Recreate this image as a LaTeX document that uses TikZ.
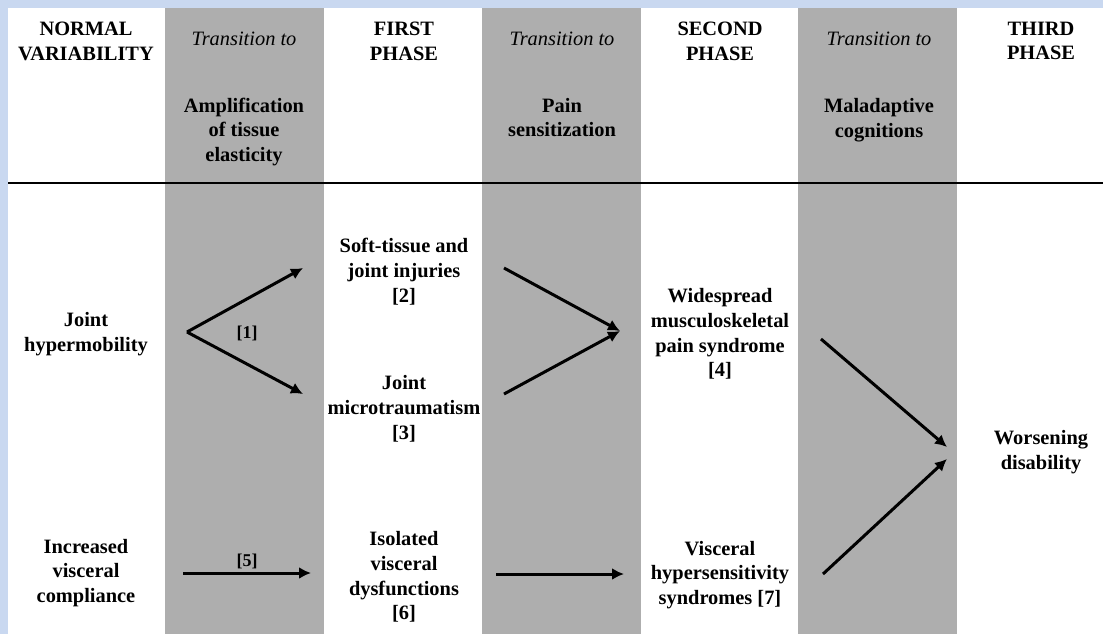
\documentclass[tikz,border=0pt]{standalone}
\usepackage{fontspec}
\setmainfont{Liberation Serif}
\usetikzlibrary{arrows.meta}
\definecolor{gris}{RGB}{174,174,174}
\definecolor{bordure}{RGB}{201,216,240}
\begin{document}
\begin{tikzpicture}[x=0.5pt,y=-0.5pt]
% Styles
\tikzstyle{fleche}=[->,>={Latex[length=6pt,width=6pt]},line width=1.5pt]
\tikzstyle{texte}=[align=center,inner sep=0pt,font=\fontsize{10.2}{12.4}\selectfont\bfseries]
\tikzstyle{transition}=[align=center,inner sep=0pt,font=\fontsize{10.2}{12.4}\selectfont\itshape]
\tikzstyle{etiquette}=[inner sep=0pt,font=\fontsize{9}{11}\selectfont\bfseries]
% Dimensions
\def\Largeur{1103}
\def\Hauteur{634}
\def\Marge{8}
\def\LigneTitre{183}
% Colonnes
\def\ColA{86}
\def\ColB{244}
\def\ColC{404}
\def\ColD{562}
\def\ColE{720}
\def\ColF{879}
\def\ColG{1041}
% Fond
\useasboundingbox (0,0) rectangle (\Largeur,\Hauteur);
\fill[bordure] (0,0) rectangle (\Largeur,\Hauteur);
\fill[white] (\Marge,\Marge) rectangle (\Largeur,\Hauteur);
\fill[gris] (165,\Marge) rectangle (324,\Hauteur);
\fill[gris] (482,\Marge) rectangle (641,\Hauteur);
\fill[gris] (798,\Marge) rectangle (957,\Hauteur);
\draw[line width=1pt] (\Marge,\LigneTitre) -- (\Largeur,\LigneTitre);
% Titres
\node[texte] (NV) at (\ColA,41) {NORMAL\\VARIABILITY};
\node[transition] (T1) at (\ColB,38.5) {Transition to};
\node[texte] (AT) at (\ColB,132) {Amplification\\of tissue\\elasticity};
\node[texte] (P1) at (\ColC,41) {FIRST\\PHASE};
\node[transition] (T2) at (\ColD,38.5) {Transition to};
\node[texte] (PS) at (\ColD,117.5) {Pain\\sensitization};
\node[texte] (P2) at (\ColE,41) {SECOND\\PHASE};
\node[transition] (T3) at (\ColF,38.5) {Transition to};
\node[texte] (MC) at (\ColF,120) {Maladaptive\\cognitions};
\node[texte] (P3) at (\ColG,41) {THIRD\\PHASE};
% Noeuds
\node[texte] (JH) at (\ColA,334) {Joint\\hypermobility};
\node[texte] (SJ) at (\ColC,271.5) {Soft-tissue and\\joint injuries\\{[}2{]}};
\node[texte] (JM) at (\ColC,409) {Joint\\microtraumatism\\{[}3{]}};
\node[texte] (WM) at (\ColE,334) {Widespread\\musculoskeletal\\pain syndrome\\{[}4{]}};
\node[texte] (WD) at (\ColG,452) {Worsening\\disability};
\node[texte] (IV) at (\ColA,573) {Increased\\visceral\\compliance};
\node[texte] (VD) at (\ColC,577) {Isolated\\visceral\\dysfunctions\\{[}6{]}};
\node[texte] (VH) at (\ColE,575) {Visceral\\hypersensitivity\\syndromes [7]};
\node[etiquette] (R1) at (247,333) {[1]};
\node[etiquette] (R5) at (247,561) {[5]};
% Extremites des fleches
\coordinate (Fa) at (187,332);
\coordinate (Fah) at (303,268);
\coordinate (Fab) at (303,394);
\coordinate (Fbh) at (504,268);
\coordinate (Fbb) at (504,394);
\coordinate (Fb) at (620,331);
\coordinate (Fch) at (821,339);
\coordinate (Fcb) at (823,574);
\coordinate (Fc) at (947,447);
\coordinate (Fc') at (947,459);
\coordinate (Fd) at (183,573);
\coordinate (Fd') at (311,573);
\coordinate (Fe) at (496,574);
\coordinate (Fe') at (624,574);
% Arcs
\draw[fleche] (Fa)--(Fah);
\draw[fleche] (Fa)--(Fab);
\draw[fleche] (Fbh)--(Fb);
\draw[fleche] (Fbb)--(Fb);
\draw[fleche] (Fch)--(Fc);
\draw[fleche] (Fcb)--(Fc');
\draw[fleche] (Fd)--(Fd');
\draw[fleche] (Fe)--(Fe');
\end{tikzpicture}
\end{document}
